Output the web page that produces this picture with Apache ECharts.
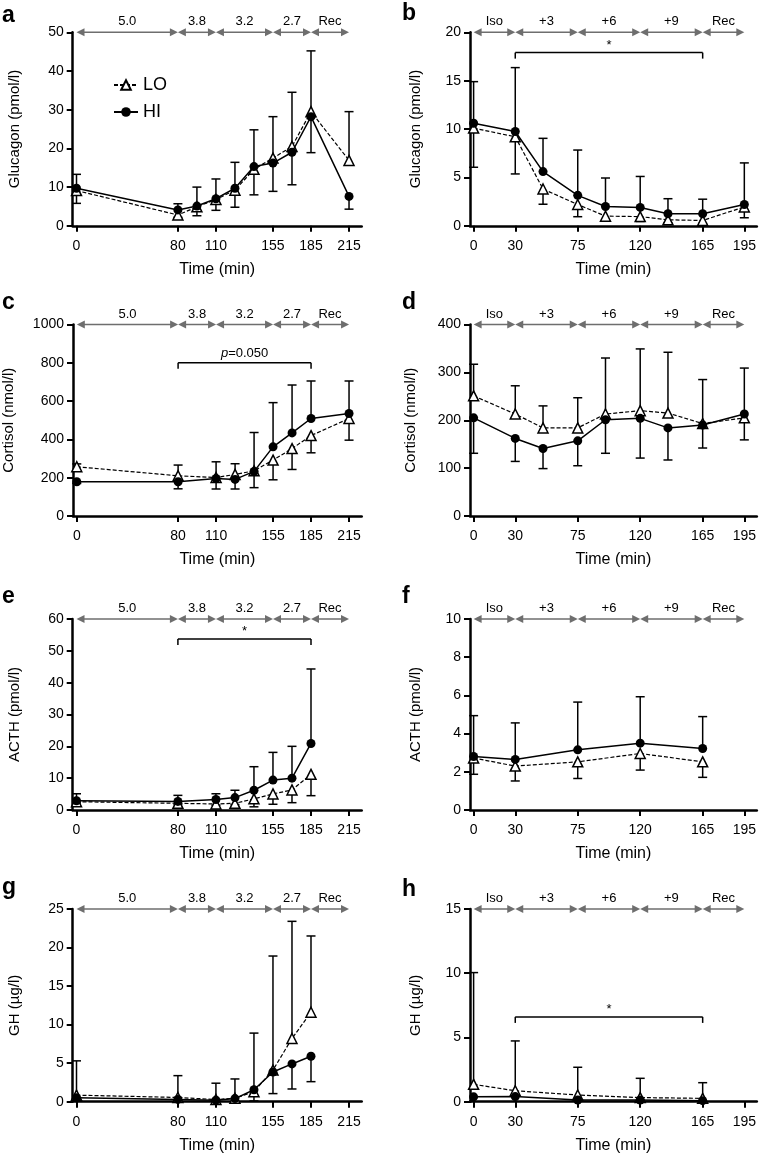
<!DOCTYPE html>
<html><head><meta charset="utf-8">
<script src="https://cdn.jsdelivr.net/npm/echarts@6/dist/echarts.min.js"></script>
<style>html,body{margin:0;padding:0;background:#fff}#c{width:759px;height:1157px}</style>
</head><body><div id="c"></div>
<script>
// ---------- data ----------
const ticksLeft = [0, 80, 110, 155, 185, 215];
const ticksRight = [0, 30, 75, 120, 165, 195];
const phasesLeft = [0, 80, 110, 155, 185, 215];
const phaseLabelsLeft = ['5.0', '3.8', '3.2', '2.7', 'Rec'];
const phasesRight = [0, 30, 75, 120, 165, 195];
const phaseLabelsRight = ['Iso', '+3', '+6', '+9', 'Rec'];

// a: Glucagon, hypoglycaemic clamp
const timesA = [0, 80, 95, 110, 125, 140, 155, 170, 185, 215];
const loA    = [9.1, 2.8, 4.9, 6.8, 9.2, 14.6, 17.5, 20.5, 29.5, 16.9];
const hiA    = [9.7, 4.1, 5.1, 7.0, 9.7, 15.3, 16.2, 19.0, 28.2, 7.6];
const loErrA = [5.8, 2.2, 2.6, 4.0, 4.8, 8.0, 28.2, 34.5, 45.2, 29.5];
const hiErrA = [13.3, 5.7, 10.0, 12.1, 16.4, 24.8, 8.9, 10.6, 18.9, 4.3];

// b: Glucagon, hyperglycaemic clamp
const timesB = [0, 30, 50, 75, 95, 120, 140, 165, 195];
const loB    = [10.1, 9.2, 3.8, 2.2, 1.0, 0.95, 0.62, 0.55, 1.95];
const hiB    = [10.6, 9.75, 5.6, 3.15, 2.0, 1.9, 1.24, 1.24, 2.2];
const loErrB = [6.05, 5.36, 2.23, 0.94, 0.5, 0.45, 0.3, 0.25, 0.83];
const hiErrB = [14.9, 16.35, 9.04, 7.83, 4.94, 5.1, 2.8, 2.75, 6.5];

// c: Cortisol, hypoglycaemic clamp
const timesC = [0, 80, 110, 125, 140, 155, 170, 185, 215];
const loC    = [257, 210, 201, 217, 236, 292, 352, 420, 509];
const hiC    = [179, 179, 196, 191, 233, 361, 434, 509, 535];
const loErrC = [272, 266, 283, 273, 436, 189, 243, 330, 396];
const hiErrC = [170, 142, 141, 141, 148, 592, 684, 705, 705];

// d: Cortisol, hyperglycaemic clamp
const timesD = [0, 30, 50, 75, 95, 120, 140, 165, 195];
const loD    = [251, 213, 184, 184, 213, 220, 215, 193, 205];
const hiD    = [205, 162, 141, 157, 201, 204, 184, 190, 213];
const loErrD = [317, 272, 230, 247, 330, 349, 342, 285, 159];
const hiErrD = [131, 114, 99, 105, 131, 121, 117, 142, 309];

// e: ACTH, hypoglycaemic clamp
const timesE = [0, 80, 110, 125, 140, 155, 170, 185];
const loE    = [2.6, 2.1, 1.9, 2.1, 3.5, 5.05, 6.3, 11.2];
const hiE    = [2.9, 2.7, 3.3, 3.9, 6.2, 9.4, 10.0, 20.9];
const loErrE = [2.2, 1.7, 1.5, 1.7, 1.0, 1.8, 2.3, 4.5];
const hiErrE = [5.1, 4.6, 5.1, 6.2, 13.6, 18.1, 20.0, 44.3];

// f: ACTH, hyperglycaemic clamp
const timesF = [0, 30, 75, 120, 165];
const loF    = [2.72, 2.3, 2.52, 2.96, 2.52];
const hiF    = [2.8, 2.65, 3.15, 3.5, 3.22];
const loErrF = [1.87, 1.52, 1.65, 2.09, 1.71];
const hiErrF = [4.94, 4.56, 5.65, 5.93, 4.89];

// g: GH, hypoglycaemic clamp
const timesG = [0, 80, 110, 125, 140, 155, 170, 185];
const loG    = [0.85, 0.55, 0.28, 0.45, 1.3, 4.1, 8.2, 11.6];
const hiG    = [0.5, 0.3, 0.2, 0.4, 1.55, 3.85, 4.9, 5.9];
const loErrG = [5.3, 3.38, 2.4, 2.95, 0.1, 18.9, 23.4, 21.5];
const hiErrG = [null, null, null, null, 8.9, 1.05, 1.65, 2.6];

// h: GH, hyperglycaemic clamp
const timesH = [0, 30, 75, 120, 165];
const loH    = [1.35, 0.85, 0.52, 0.32, 0.26];
const hiH    = [0.38, 0.4, 0.13, 0.13, 0.08];
const loErrH = [10.05, 4.73, 2.68, 1.82, 1.48];
const hiErrH = [null, null, null, null, null];

// significance bars: [from, to, level, text]
const sigB = [30, 165, 17.9, '*'];
const sigC = [80, 185, 800, 'p=0.050'];
const sigE = [80, 185, 53.7, '*'];
const sigH = [30, 165, 6.6, '*'];

// ---------- layout ----------
const FONT = '"Liberation Sans", Arial, Helvetica, sans-serif';
const colGeom = [{left: 72.7, width: 289, min: -3, max: 225}, {left: 470, width: 288, min: -2.6, max: 204}];
const rowGeom = [{top: 32.3, height: 193.5}, {top: 324.5, height: 191.5}, {top: 619, height: 191}, {top: 909, height: 192.7}];

const panels = [
  {key: 'a', col: 0, row: 0, t: timesA, lo: loA, hi: hiA, le: loErrA, he: hiErrA, yMax: 50, yStep: 10, yName: 'Glucagon (pmol/l)', gap: 50, sig: null},
  {key: 'b', col: 1, row: 0, t: timesB, lo: loB, hi: hiB, le: loErrB, he: hiErrB, yMax: 20, yStep: 5, yName: 'Glucagon (pmol/l)', gap: 47, sig: sigB},
  {key: 'c', col: 0, row: 1, t: timesC, lo: loC, hi: hiC, le: loErrC, he: hiErrC, yMax: 1000, yStep: 200, yName: 'Cortisol (nmol/l)', gap: 57, sig: sigC},
  {key: 'd', col: 1, row: 1, t: timesD, lo: loD, hi: hiD, le: loErrD, he: hiErrD, yMax: 400, yStep: 100, yName: 'Cortisol (nmol/l)', gap: 52, sig: null},
  {key: 'e', col: 0, row: 2, t: timesE, lo: loE, hi: hiE, le: loErrE, he: hiErrE, yMax: 60, yStep: 10, yName: 'ACTH (pmol/l)', gap: 50, sig: sigE},
  {key: 'f', col: 1, row: 2, t: timesF, lo: loF, hi: hiF, le: loErrF, he: hiErrF, yMax: 10, yStep: 2, yName: 'ACTH (pmol/l)', gap: 47, sig: null},
  {key: 'g', col: 0, row: 3, t: timesG, lo: loG, hi: hiG, le: loErrG, he: hiErrG, yMax: 25, yStep: 5, yName: 'GH (µg/l)', gap: 50, sig: null},
  {key: 'h', col: 1, row: 3, t: timesH, lo: loH, hi: hiH, le: loErrH, he: hiErrH, yMax: 15, yStep: 5, yName: 'GH (µg/l)', gap: 47, sig: sigH}
];
const letterPos = [[2, 14], [402, 12], [2, 301], [402, 301], [2, 595], [402, 595], [2, 886], [402, 888]];

// ---------- render helpers ----------
function errRender(params, api) {
  const x = api.value(0), m = api.value(1), e = api.value(2);
  const p0 = api.coord([x, m]), p1 = api.coord([x, e]);
  const st = {stroke: '#000', lineWidth: 1.5};
  return {type: 'group', children: [
    {type: 'line', shape: {x1: p0[0], y1: p0[1], x2: p1[0], y2: p1[1]}, style: st},
    {type: 'line', shape: {x1: p1[0] - 4.5, y1: p1[1], x2: p1[0] + 4.5, y2: p1[1]}, style: st}
  ]};
}
function arrowRender(labels) {
  return function (params, api) {
    const p1 = api.coord([api.value(0), api.value(2)]);
    const p2 = api.coord([api.value(1), api.value(2)]);
    const y = p1[1], L = 8, W = 4, col = '#6e6e6e';
    return {type: 'group', children: [
      {type: 'line', shape: {x1: p1[0] + L / 2, y1: y, x2: p2[0] - L / 2, y2: y}, style: {stroke: col, lineWidth: 1.5}},
      {type: 'polygon', shape: {points: [[p1[0], y], [p1[0] + L, y - W], [p1[0] + L, y + W]]}, style: {fill: col}},
      {type: 'polygon', shape: {points: [[p2[0], y], [p2[0] - L, y - W], [p2[0] - L, y + W]]}, style: {fill: col}},
      {type: 'text', x: (p1[0] + p2[0]) / 2, y: y - 4, style: {text: labels[params.dataIndex], fill: '#000', fontSize: 13, fontFamily: FONT, align: 'center', verticalAlign: 'bottom'}}
    ]};
  };
}
function sigRender(text) {
  return function (params, api) {
    const p1 = api.coord([api.value(0), api.value(2)]);
    const p2 = api.coord([api.value(1), api.value(2)]);
    const y = p1[1], st = {stroke: '#000', lineWidth: 1.5};
    const isP = text.indexOf('p=') === 0;
    return {type: 'group', children: [
      {type: 'line', shape: {x1: p1[0], y1: y, x2: p2[0], y2: y}, style: st},
      {type: 'line', shape: {x1: p1[0], y1: y, x2: p1[0], y2: y + 6}, style: st},
      {type: 'line', shape: {x1: p2[0], y1: y, x2: p2[0], y2: y + 6}, style: st},
      {type: 'text', x: (p1[0] + p2[0]) / 2, y: isP ? y - 3 : y - 1, style: {
        text: isP ? '{i|p}=' + text.slice(2) : text, fill: '#000', fontSize: 13, fontFamily: FONT,
        align: 'center', verticalAlign: 'bottom', rich: {i: {fontStyle: 'italic', fontSize: 13, fontFamily: FONT}}}}
    ]};
  };
}

// ---------- build option ----------
const grid = [], xAxis = [], yAxis = [], series = [], graphic = [];
panels.forEach((p, i) => {
  const cg = colGeom[p.col], rg = rowGeom[p.row];
  const ticks = p.col === 0 ? ticksLeft : ticksRight;
  const phases = p.col === 0 ? phasesLeft : phasesRight;
  const phaseLabels = p.col === 0 ? phaseLabelsLeft : phaseLabelsRight;
  grid.push({left: cg.left, width: cg.width, top: rg.top, height: rg.height, containLabel: false});
  xAxis.push({
    type: 'value', gridIndex: i, min: cg.min, max: cg.max,
    axisLine: {show: true, onZero: false, lineStyle: {color: '#000', width: 2.5}},
    axisTick: {show: true, customValues: ticks, length: 6, lineStyle: {color: '#000', width: 2}},
    axisLabel: {show: true, customValues: ticks, fontSize: 14, color: '#000', fontFamily: FONT, margin: 13},
    splitLine: {show: false},
    name: 'Time (min)', nameLocation: 'middle', nameGap: 36,
    nameTextStyle: {fontSize: 16, color: '#000', fontFamily: FONT}
  });
  yAxis.push({
    type: 'value', gridIndex: i, min: 0, max: p.yMax, interval: p.yStep,
    axisLine: {show: true, onZero: false, lineStyle: {color: '#000', width: 2.5}},
    axisTick: {show: true, length: 6, lineStyle: {color: '#000', width: 2}},
    axisLabel: {fontSize: 14, color: '#000', fontFamily: FONT, margin: 9, formatter: v => String(v)},
    splitLine: {show: false},
    name: p.yName, nameLocation: 'middle', nameGap: p.gap, nameRotate: 90,
    nameTextStyle: {fontSize: 15, color: '#000', fontFamily: FONT}
  });
  // error bars
  const errData = [];
  p.t.forEach((tt, k) => {
    if (p.le[k] != null) errData.push([tt, p.lo[k], p.le[k]]);
    if (p.he[k] != null) errData.push([tt, p.hi[k], p.he[k]]);
  });
  series.push({type: 'custom', xAxisIndex: i, yAxisIndex: i, renderItem: errRender, data: errData,
    encode: {x: 0, y: 1}, z: 1, silent: true, clip: false});
  // lines
  series.push({
    name: 'LO', type: 'line', xAxisIndex: i, yAxisIndex: i, z: 3,
    data: p.t.map((tt, k) => [tt, p.lo[k]]),
    symbol: 'triangle', symbolSize: 10, showAllSymbol: true,
    lineStyle: {color: '#000', width: 1.2, type: [4, 2]},
    itemStyle: {color: '#fff', borderColor: '#000', borderWidth: 1.5},
    animation: false
  });
  series.push({
    name: 'HI', type: 'line', xAxisIndex: i, yAxisIndex: i, z: 4,
    data: p.t.map((tt, k) => [tt, p.hi[k]]),
    symbol: 'circle', symbolSize: 9, showAllSymbol: true,
    lineStyle: {color: '#000', width: 1.5},
    itemStyle: {color: '#000', borderColor: '#000', borderWidth: 0},
    animation: false
  });
  // phase arrows
  const arrowData = [];
  for (let k = 0; k < phases.length - 1; k++) arrowData.push([phases[k], phases[k + 1], p.yMax]);
  series.push({type: 'custom', xAxisIndex: i, yAxisIndex: i, renderItem: arrowRender(phaseLabels),
    data: arrowData, encode: {x: [0, 1], y: 2}, z: 5, silent: true, clip: false});
  // significance
  if (p.sig) {
    series.push({type: 'custom', xAxisIndex: i, yAxisIndex: i, renderItem: sigRender(p.sig[3]),
      data: [[p.sig[0], p.sig[1], p.sig[2]]], encode: {x: [0, 1], y: 2}, z: 5, silent: true, clip: false});
  }
  graphic.push({type: 'text', left: letterPos[i][0], top: letterPos[i][1] - 10, style: {
    text: p.key, fill: '#000', font: 'bold 23px ' + FONT}});
});

const option = {
  animation: false,
  backgroundColor: '#fff',
  grid, xAxis, yAxis, series, graphic,
  legend: {
    data: ['LO', 'HI'], orient: 'vertical', left: 108, top: 71,
    itemWidth: 24, itemHeight: 12, itemGap: 9, selectedMode: false,
    textStyle: {fontSize: 18, color: '#000', fontFamily: FONT}
  }
};
const chart = echarts.init(document.getElementById('c'), null, {renderer: 'canvas'});
chart.setOption(option);
</script>
</body></html>
